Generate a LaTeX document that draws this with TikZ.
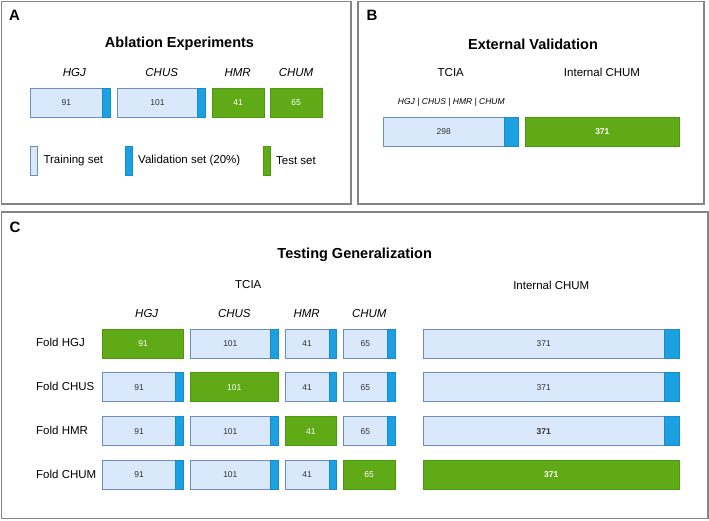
\documentclass[tikz,border=0pt]{standalone}
\usepackage{fontspec}
\setmainfont{Liberation Sans}
\definecolor{trainfill}{HTML}{DAE8FC}
\definecolor{traindraw}{HTML}{6C8EBF}
\definecolor{valfill}{HTML}{1BA1E2}
\definecolor{valdraw}{HTML}{1B8ACB}
\definecolor{testfill}{HTML}{60A917}
\definecolor{testdraw}{HTML}{4A9A10}
\definecolor{panelline}{HTML}{858585}
\definecolor{numtext}{HTML}{333333}
\tikzset{
  panel/.style={draw=panelline, line width=1.3pt, inner sep=0pt, outer sep=0pt, anchor=north west},
  train/.style={draw=traindraw, fill=trainfill, line width=0.8pt, inner sep=0pt, outer sep=0pt, minimum height=29pt, anchor=north west, text=numtext, font=\fontsize{8.5}{10}\selectfont},
  val/.style={draw=valdraw, fill=valfill, line width=0.8pt, inner sep=0pt, outer sep=0pt, minimum height=29pt, anchor=north west},
  test/.style={draw=testdraw, fill=testfill, line width=0.8pt, inner sep=0pt, outer sep=0pt, minimum height=29pt, anchor=north west, text=white, font=\fontsize{8.5}{10}\selectfont},
  letter/.style={font=\fontsize{15}{17}\selectfont\bfseries, inner sep=0pt},
  ttl/.style={font=\fontsize{14.5}{17}\selectfont\bfseries, inner sep=0pt},
  lbl/.style={font=\fontsize{11.5}{13}\selectfont, inner sep=0pt},
  ilbl/.style={font=\fontsize{11.5}{13}\selectfont\itshape, inner sep=0pt},
  slbl/.style={font=\fontsize{8.5}{10}\selectfont\itshape, inner sep=0pt},
  bold371/.style={font=\fontsize{8.5}{10}\selectfont\bfseries},
}
% name, x0, xb, x1, ytop, label
\newcommand{\trainbar}[6]{%
  \node[train, minimum width={#3-#2}] (#1) at (#2,#5) {#6};
  \node[val, minimum width={#4-#3}] (#1v) at (#3,#5) {};
}
% name, x0, x1, ytop, label
\newcommand{\testbar}[5]{%
  \node[test, minimum width={#3-#2}] (#1) at (#2,#4) {#5};
}
\begin{document}
\begin{tikzpicture}[x=1pt,y=-1pt]
\useasboundingbox (0,0) rectangle (709,520);
\fill[white] (0,0) rectangle (709,520);

% panels
\node[panel, minimum width=349.5pt, minimum height=202.5pt] (pA) at (1.5,1.5) {};
\node[panel, minimum width=346pt, minimum height=202.5pt] (pB) at (358,1.5) {};
\node[panel, minimum width=706.5pt, minimum height=306.5pt] (pC) at (1.5,212) {};

% ---------- Panel A ----------
\node[letter] (lA) at (14.5,15.5) {A};
\node[ttl] (tA) at (179.5,44) {Ablation Experiments};
\node[ilbl] (aHGJ) at (74.3,72.7) {HGJ};
\node[ilbl] (aCHUS) at (161.7,72.7) {CHUS};
\node[ilbl] (aHMR) at (237.7,72.7) {HMR};
\node[ilbl] (aCHUM) at (296,72.7) {CHUM};
\trainbar{abHGJ}{30}{102.7}{110.7}{88.3}{91}
\trainbar{abCHUS}{117.3}{197.7}{205.7}{88.3}{101}
\testbar{abHMR}{212}{264}{88.3}{41}
\testbar{abCHUM}{270}{322.3}{88.3}{65}
% legend
\node[train, minimum width=7.7pt] (legT) at (30,146) {};
\node[val, minimum width=7.3pt] (legV) at (125,146) {};
\node[test, minimum width=7.4pt] (legG) at (263.3,146) {};
\node[lbl, anchor=west] (legTt) at (43.3,160.5) {Training set};
\node[lbl, anchor=west] (legVt) at (138,160.5) {Validation set (20\%)};
\node[lbl, anchor=west] (legGt) at (276,160.5) {Test set};

% ---------- Panel B ----------
\node[letter] (lB) at (372,15.5) {B};
\node[ttl] (tB) at (533,44) {External Validation};
\node[lbl] (bTCIA) at (450.8,72.7) {TCIA};
\node[lbl] (bINT) at (602,72.7) {Internal CHUM};
\node[slbl] (bsub) at (451.3,102.7) {HGJ | CHUS | HMR | CHUM};
\node[train, minimum width=120.7pt, minimum height=29.4pt] (bTr) at (383.3,117.3) {298};
\node[val, minimum width=14.7pt, minimum height=29.4pt] (bTrv) at (504,117.3) {};
\node[test, minimum width=153.3pt, minimum height=29.4pt, bold371] (bTe) at (525.7,117.3) {371};

% ---------- Panel C ----------
\node[letter] (lC) at (15,227) {C};
\node[ttl] (tC) at (354.7,255) {Testing Generalization};
\node[lbl] (cTCIA) at (248.3,285) {TCIA};
\node[lbl] (cINT) at (551.3,285) {Internal CHUM};
\node[ilbl] (cHGJ) at (146.7,313.3) {HGJ};
\node[ilbl] (cCHUS) at (234.3,313.3) {CHUS};
\node[ilbl] (cHMR) at (306.7,313.3) {HMR};
\node[ilbl] (cCHUM) at (369.3,313.3) {CHUM};

% row 1: Fold HGJ
\node[lbl, anchor=west] (f1) at (36,342.3) {Fold HGJ};
\testbar{r1a}{102.7}{183.3}{329.3}{91}
\trainbar{r1b}{190}{270.7}{278.3}{329.3}{101}
\trainbar{r1c}{285}{329}{336.7}{329.3}{41}
\trainbar{r1d}{343.3}{387.3}{395}{329.3}{65}
\trainbar{r1e}{423.3}{664}{679.3}{329.3}{371}

% row 2: Fold CHUS
\node[lbl, anchor=west] (f2) at (36,386) {Fold CHUS};
\trainbar{r2a}{102.7}{175.7}{183.3}{372.7}{91}
\testbar{r2b}{190}{278.3}{372.7}{101}
\trainbar{r2c}{285}{329}{336.7}{372.7}{41}
\trainbar{r2d}{343.3}{387.3}{395}{372.7}{65}
\trainbar{r2e}{423.3}{664}{679.3}{372.7}{371}

% row 3: Fold HMR
\node[lbl, anchor=west] (f3) at (36,430) {Fold HMR};
\trainbar{r3a}{102.7}{175.7}{183.3}{416.7}{91}
\trainbar{r3b}{190}{270.7}{278.3}{416.7}{101}
\testbar{r3c}{285}{336.7}{416.7}{41}
\trainbar{r3d}{343.3}{387.3}{395}{416.7}{65}
\trainbar{r3e}{423.3}{664}{679.3}{416.7}{\textbf{371}}

% row 4: Fold CHUM
\node[lbl, anchor=west] (f4) at (36,474) {Fold CHUM};
\trainbar{r4a}{102.7}{175.7}{183.3}{460}{91}
\trainbar{r4b}{190}{270.7}{278.3}{460}{101}
\trainbar{r4c}{285}{329}{336.7}{460}{41}
\testbar{r4d}{343.3}{395}{460}{65}
\testbar{r4e}{423.3}{679.3}{460}{\textbf{371}}
\end{tikzpicture}
\end{document}
